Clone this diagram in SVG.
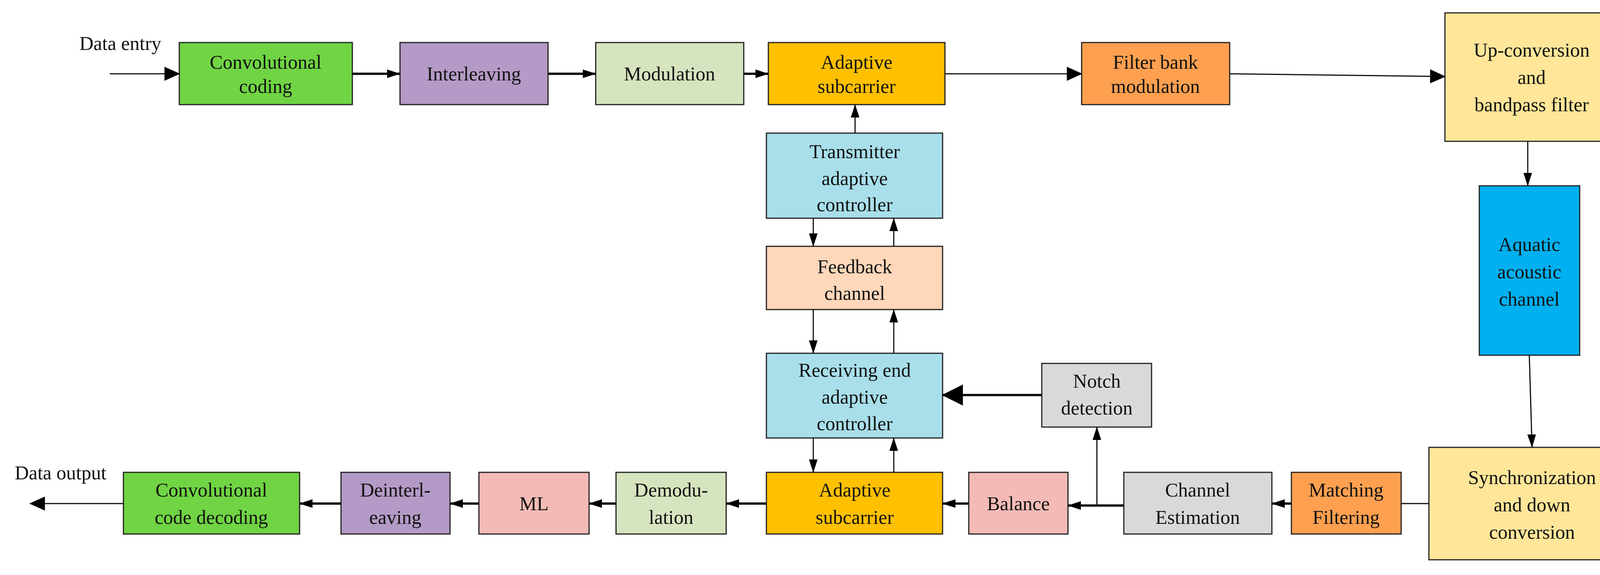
<svg xmlns="http://www.w3.org/2000/svg" width="4226" height="1473" viewBox="0 0 4226 1473">
<defs>
<style>
.b{stroke:#222;stroke-width:3}
text{font-family:"Liberation Serif","Times New Roman",serif;font-size:50px;fill:#111;text-anchor:middle}
.c{stroke:#111;fill:none}
.t{stroke-width:6}
.n{stroke-width:3}
</style>
<marker id="aB" markerUnits="userSpaceOnUse" markerWidth="40" markerHeight="40" viewBox="0 0 40 40" refX="38" refY="20" orient="auto"><path d="M0,2 L40,20 L0,38 Z" fill="#000"/></marker>
<marker id="aS" markerUnits="userSpaceOnUse" markerWidth="34" markerHeight="24" viewBox="0 0 34 24" refX="33" refY="12" orient="auto"><path d="M0,1 L34,12 L0,23 Z" fill="#000"/></marker>
<marker id="aL" markerUnits="userSpaceOnUse" markerWidth="54" markerHeight="54" viewBox="0 0 54 54" refX="52" refY="27" orient="auto"><path d="M0,0 L54,27 L0,54 Z" fill="#000"/></marker>
</defs>
<rect width="4226" height="1473" fill="#fff"/>
<text x="308" y="128" text-anchor="middle">Data entry</text>
<text x="155" y="1228">Data output</text>
<g id="conv"><rect class="b" x="459" y="109" width="443" height="159" fill="#70D444"/><text x="680" y="176">Convolutional</text><text x="680" y="238">coding</text></g>
<g id="inter"><rect class="b" x="1024" y="109" width="379" height="159" fill="#B49AC6"/><text x="1213" y="206">Interleaving</text></g>
<g id="mod"><rect class="b" x="1525" y="109" width="379" height="159" fill="#D6E4BF"/><text x="1714" y="206">Modulation</text></g>
<g id="asub1"><rect class="b" x="1967" y="109" width="452" height="159" fill="#FFC000"/><text x="2193" y="176">Adaptive</text><text x="2193" y="238">subcarrier</text></g>
<g id="fbm"><rect class="b" x="2769" y="109" width="379" height="159" fill="#FFA050"/><text x="2958" y="176">Filter bank</text><text x="2958" y="238">modulation</text></g>
<g id="upc"><rect class="b" x="3699" y="33" width="445" height="329" fill="#FFE699"/><text x="3921" y="145">Up-conversion</text><text x="3921" y="215">and</text><text x="3921" y="285">bandpass filter</text></g>
<g id="aqua"><rect class="b" x="3787" y="476" width="257" height="434" fill="#00B0F0"/><text x="3915" y="643">Aquatic</text><text x="3915" y="713">acoustic</text><text x="3915" y="783">channel</text></g>
<g id="tx"><rect class="b" x="1962" y="341" width="451" height="218" fill="#A8DFEA"/><text x="2188" y="405">Transmitter</text><text x="2188" y="474">adaptive</text><text x="2188" y="541">controller</text></g>
<g id="fb"><rect class="b" x="1962" y="631" width="451" height="162" fill="#FFD7BA"/><text x="2188" y="700">Feedback</text><text x="2188" y="768">channel</text></g>
<g id="rx"><rect class="b" x="1962" y="905" width="451" height="217" fill="#A8DFEA"/><text x="2188" y="965">Receiving end</text><text x="2188" y="1034">adaptive</text><text x="2188" y="1102">controller</text></g>
<g id="notch"><rect class="b" x="2667" y="931" width="281" height="163" fill="#D9D9D9"/><text x="2808" y="993">Notch</text><text x="2808" y="1062">detection</text></g>
<g id="sync"><rect class="b" x="3658" y="1146" width="528" height="288" fill="#FFE699"/><text x="3922" y="1240">Synchronization</text><text x="3922" y="1310">and down</text><text x="3922" y="1380">conversion</text></g>
<g id="match"><rect class="b" x="3306" y="1210" width="281" height="158" fill="#FFA050"/><text x="3446" y="1272">Matching</text><text x="3446" y="1342">Filtering</text></g>
<g id="che"><rect class="b" x="2877" y="1210" width="379" height="158" fill="#D9D9D9"/><text x="3066" y="1272">Channel</text><text x="3066" y="1342">Estimation</text></g>
<g id="bal"><rect class="b" x="2480" y="1210" width="254" height="158" fill="#F4BBB6"/><text x="2607" y="1307">Balance</text></g>
<g id="asub2"><rect class="b" x="1962" y="1210" width="451" height="158" fill="#FFC000"/><text x="2188" y="1272">Adaptive</text><text x="2188" y="1342">subcarrier</text></g>
<g id="demod"><rect class="b" x="1577" y="1210" width="282" height="158" fill="#D6E4BF"/><text x="1718" y="1272">Demodu-</text><text x="1718" y="1342">lation</text></g>
<g id="ml"><rect class="b" x="1226" y="1210" width="282" height="158" fill="#F4BBB6"/><text x="1367" y="1307">ML</text></g>
<g id="deint"><rect class="b" x="873" y="1210" width="279" height="158" fill="#B49AC6"/><text x="1012" y="1272">Deinterl-</text><text x="1012" y="1342">eaving</text></g>
<g id="cdec"><rect class="b" x="316" y="1210" width="451" height="158" fill="#70D444"/><text x="541" y="1272">Convolutional</text><text x="541" y="1342">code decoding</text></g>
<g id="connectors">
<path class="c n" d="M281,189 H459" marker-end="url(#aB)"/>
<path class="c t" d="M902,189 H1024" marker-end="url(#aS)"/>
<path class="c t" d="M1403,189 H1525" marker-end="url(#aS)"/>
<path class="c t" d="M1904,189 H1967" marker-end="url(#aS)"/>
<path class="c n" d="M2419,189 H2769" marker-end="url(#aB)"/>
<path class="c n" d="M3148,189 L3699,196" marker-end="url(#aB)"/>
<path class="c n" d="M2189,341 V268" marker-end="url(#aS)"/>
<path class="c n" d="M2082,559 V631" marker-end="url(#aS)"/>
<path class="c n" d="M2288,631 V559" marker-end="url(#aS)"/>
<path class="c n" d="M2082,793 V905" marker-end="url(#aS)"/>
<path class="c n" d="M2288,905 V793" marker-end="url(#aS)"/>
<path class="c n" d="M2082,1122 V1210" marker-end="url(#aS)"/>
<path class="c n" d="M2288,1210 V1122" marker-end="url(#aS)"/>
<path class="c n" d="M3911,362 V476" marker-end="url(#aS)"/>
<path class="c n" d="M3915,910 L3922,1146" marker-end="url(#aS)"/>
<path class="c n" d="M3658,1290 H3587"/>
<path class="c t" d="M3306,1290 H3256" marker-end="url(#aS)"/>
<path class="c t" d="M2877,1295 H2734" marker-end="url(#aS)"/>
<path class="c n" d="M2808,1295 V1094" marker-end="url(#aS)"/>
<path class="c t" d="M2667,1012 H2413" marker-end="url(#aL)"/>
<path class="c t" d="M2480,1290 H2413" marker-end="url(#aS)"/>
<path class="c t" d="M1962,1290 H1859" marker-end="url(#aS)"/>
<path class="c t" d="M1577,1290 H1508" marker-end="url(#aS)"/>
<path class="c t" d="M1226,1290 H1152" marker-end="url(#aS)"/>
<path class="c t" d="M873,1290 H767" marker-end="url(#aS)"/>
<path class="c n" d="M316,1290 H77" marker-end="url(#aB)"/>
</g>
</svg>
